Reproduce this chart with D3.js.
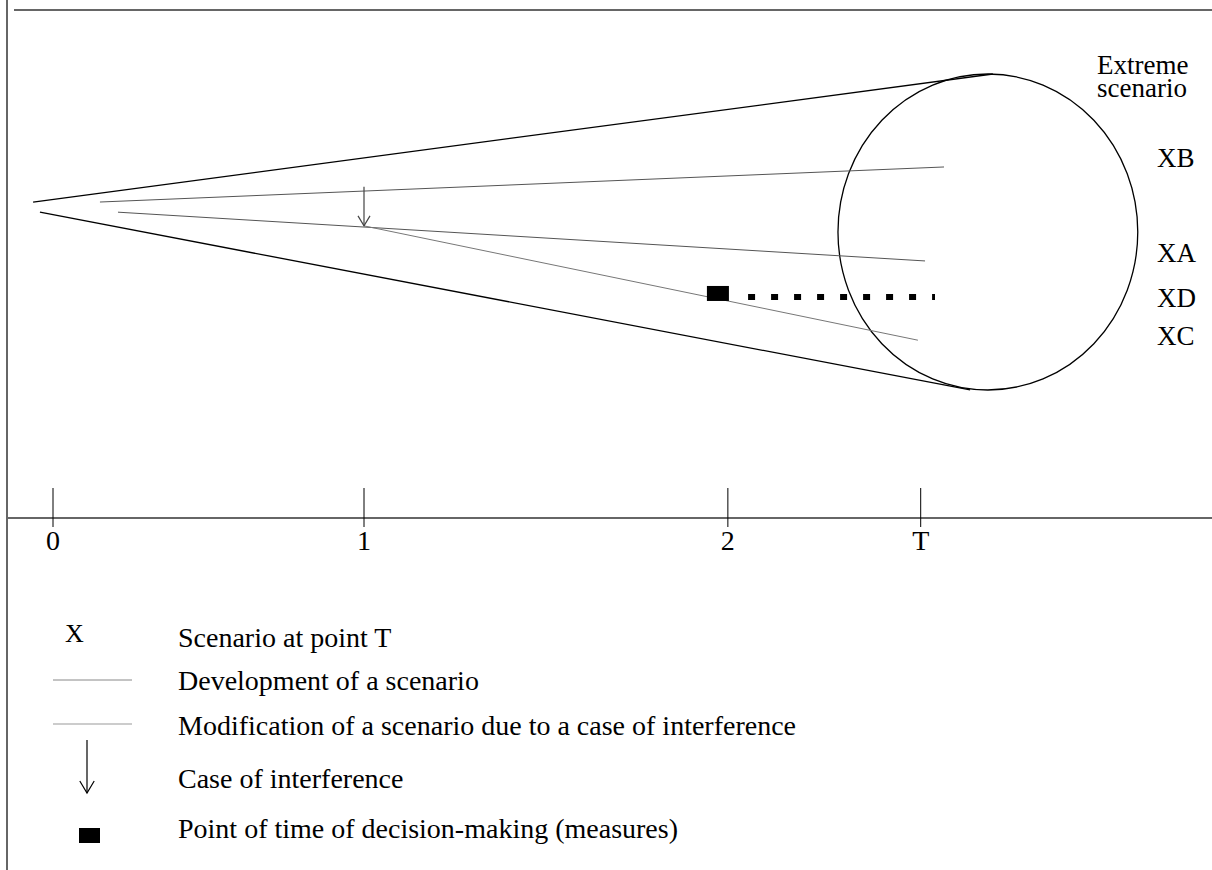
<!DOCTYPE html>
<html>
<head>
<meta charset="utf-8">
<script src="https://cdn.jsdelivr.net/npm/d3@7"></script>
<style>
  body { margin: 0; background: #fff; }
  text { font-family: "Liberation Serif", "Times New Roman", serif; fill: #000; }
</style>
</head>
<body>
<div id="canvas"></div>
<script>
// time axis
const tickLabels = ["0", "1", "2", "T"];
const tickTimes = [0, 1, 2.17, 2.79];

// funnel borders [time, value]
const funnelUpper = [[-0.064, 62.2], [3.022, 87.4]];
const funnelLower = [[-0.042, 60.2], [2.949, 25.2]];

// scenario developments
const scenarioB = [[0.151, 62.2], [2.865, 69.1]];
const scenarioA = [[0.209, 60.2], [2.804, 50.6]];
const scenarioC = [[1.0, 57.5], [2.781, 35.0]];

// interference (time, from value, to value)
const interference = { time: 1.0, from: 65.2, to: 57.5 };
// decision point and measure
const decision = { time: 2.138, value: 44.2 };
const measure = [[2.235, 43.5], [2.836, 43.5]];

// circle of scenarios at T
const circle = { time: 3.006, value: 56.3, rTime: 0.482, rValue: 31.1 };

// labels at T
const scenarioNames = ["XB", "XA", "XD", "XC"];
const scenarioLabelValues = [69.1, 50.4, 41.5, 34.1];
const extremeLabel = ["Extreme", "scenario"];

const legendTexts = [
  "Scenario at point T",
  "Development of a scenario",
  "Modification of a scenario due to a case of interference",
  "Case of interference",
  "Point of time of decision-making (measures)"
];

const width = 1212;
const height = 870;

const svg = d3.select("#canvas")
  .append("svg")
  .attr("width", width)
  .attr("height", height);

const x = d3.scaleLinear().domain([0, 1]).range([53, 364]);
const y = d3.scaleLinear().domain([0, 100]).range([518, 10]);
const line = d3.line().x(d => x(d[0])).y(d => y(d[1]));

// frame lines
svg.append("line")
  .attr("x1", 7).attr("x2", 7).attr("y1", 0).attr("y2", height)
  .attr("stroke", "#333").attr("stroke-width", 1.5);
svg.append("line")
  .attr("x1", 14).attr("x2", width).attr("y1", y(100)).attr("y2", y(100))
  .attr("stroke", "#666").attr("stroke-width", 2);
svg.append("line")
  .attr("x1", 7).attr("x2", width).attr("y1", y(0)).attr("y2", y(0))
  .attr("stroke", "#666").attr("stroke-width", 2);

// ticks
const ticks = svg.append("g");
ticks.selectAll("line")
  .data(tickTimes)
  .join("line")
  .attr("x1", d => x(d)).attr("x2", d => x(d))
  .attr("y1", y(0) - 30).attr("y2", y(0) + 9)
  .attr("stroke", "#000").attr("stroke-width", 1);
ticks.selectAll("text")
  .data(tickLabels)
  .join("text")
  .attr("x", (d, i) => x(tickTimes[i]))
  .attr("y", y(0) + 32)
  .attr("text-anchor", "middle")
  .style("font-size", "28px")
  .text(d => d);

// funnel
[funnelUpper, funnelLower].forEach(d => {
  svg.append("path").attr("d", line(d))
    .attr("fill", "none").attr("stroke", "#000").attr("stroke-width", 1.3);
});

svg.append("ellipse")
  .attr("cx", x(circle.time))
  .attr("cy", y(circle.value))
  .attr("rx", x(circle.time + circle.rTime) - x(circle.time))
  .attr("ry", y(circle.value - circle.rValue) - y(circle.value))
  .attr("fill", "none").attr("stroke", "#000").attr("stroke-width", 1.3);

// scenarios
[scenarioB, scenarioA].forEach(d => {
  svg.append("path").attr("d", line(d))
    .attr("fill", "none").attr("stroke", "#555").attr("stroke-width", 1);
});
svg.append("path").attr("d", line(scenarioC))
  .attr("fill", "none").attr("stroke", "#777").attr("stroke-width", 1);

// arrow helper
function drawArrow(g, ax, ay1, ay2, head, col) {
  g.append("line").attr("x1", ax).attr("x2", ax).attr("y1", ay1).attr("y2", ay2)
    .attr("stroke", col).attr("stroke-width", 1.2);
  g.append("path")
    .attr("d", `M${ax - head * 0.6},${ay2 - head} L${ax},${ay2} L${ax + head * 0.6},${ay2 - head}`)
    .attr("fill", "none").attr("stroke", col).attr("stroke-width", 1.2);
}

drawArrow(svg, x(interference.time), y(interference.from), y(interference.to), 10, "#444");

// decision + measures
svg.append("path").attr("d", line(measure))
  .attr("fill", "none").attr("stroke", "#000")
  .attr("stroke-width", 6).attr("stroke-dasharray", "7 16");
svg.append("rect")
  .attr("x", x(decision.time) - 11).attr("y", y(decision.value) - 7.5)
  .attr("width", 22).attr("height", 15).attr("fill", "#000");

// labels at T
svg.append("g").selectAll("text")
  .data(scenarioNames)
  .join("text")
  .attr("x", 1157)
  .attr("y", (d, i) => y(scenarioLabelValues[i]))
  .style("font-size", "27px")
  .text(d => d);

svg.append("g").selectAll("text")
  .data(extremeLabel)
  .join("text")
  .attr("x", 1097)
  .attr("y", (d, i) => 74 + i * 23)
  .style("font-size", "27px")
  .text(d => d);

// legend
const legend = svg.append("g");
const rowY = [647, 690, 735, 788, 838];
legend.selectAll("text.item")
  .data(legendTexts)
  .join("text")
  .attr("class", "item")
  .attr("x", 178)
  .attr("y", (d, i) => rowY[i])
  .style("font-size", "28px")
  .text(d => d);

legend.append("text")
  .attr("x", 65).attr("y", 642)
  .style("font-size", "26px")
  .text("X");
legend.append("line")
  .attr("x1", 53).attr("x2", 132).attr("y1", 680).attr("y2", 680)
  .attr("stroke", "#888").attr("stroke-width", 1);
legend.append("line")
  .attr("x1", 53).attr("x2", 132).attr("y1", 724).attr("y2", 724)
  .attr("stroke", "#999").attr("stroke-width", 1);
drawArrow(legend, 87, 740, 793, 12, "#000");
legend.append("rect")
  .attr("x", 79).attr("y", 828).attr("width", 21).attr("height", 15)
  .attr("fill", "#000");
</script>
</body>
</html>
